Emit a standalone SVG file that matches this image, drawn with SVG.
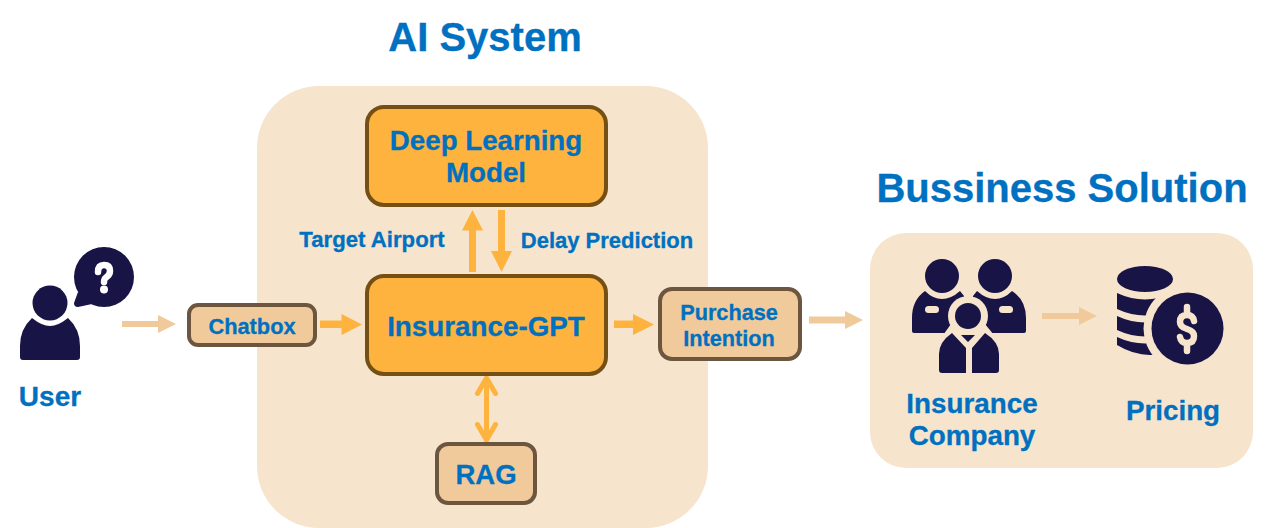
<svg xmlns="http://www.w3.org/2000/svg" width="1272" height="528" viewBox="0 0 1272 528">
<style>
text{font-family:"Liberation Sans",Arial,sans-serif;font-weight:700;fill:#0070c0;stroke:#0070c0;stroke-width:.3;text-anchor:middle}
.panel{fill:#f6e4cd}
.main{fill:#fdb33e;stroke:#745015;stroke-width:4}
.sub{fill:#f1ca9c;stroke:#6d5640;stroke-width:4}
.ico{fill:#181445}
.cut{fill:#f6e4cd}
.a1{fill:#fdb33e}
.a2{fill:#f1ca9c}
.sign{fill:none;stroke-linecap:round;stroke-width:6.500}
.open{fill:none;stroke:#fdb33e;stroke-width:5;stroke-linecap:round;stroke-linejoin:miter}
</style>
<rect width="1272" height="528" fill="#fff"/>
<g id="panel-ai"><rect class="panel" x="257" y="86" width="451" height="442" rx="62"/></g>
<g id="panel-business"><rect class="panel" x="870" y="233" width="383" height="235" rx="36"/></g>
<text x="485" y="51" font-size="40">AI System</text>
<text x="1062" y="202" font-size="40">Bussiness Solution</text>
<g id="connectors">
<polygon class="a2" points="122,321 158,321 158,315 176,324 158,333 158,327 122,327"/>
<polygon class="a1" points="320,320.500 341.500,320.500 341.500,314 362,324.500 341.500,335 341.500,328 320,328"/>
<polygon class="a1" points="614,320.500 633,320.500 633,314 654,324.500 633,335 633,328 614,328"/>
<polygon class="a2" points="809,316.500 845,316.500 845,311 863,320 845,329 845,323.500 809,323.500"/>
<polygon class="a2" points="1042,313 1079,313 1079,307 1097,316 1079,325 1079,319 1042,319"/>
<polygon class="a1" points="469,272 469,230.500 462,230.500 472.500,210 483,230.500 476,230.500 476,272"/>
<polygon class="a1" points="498,210 505,210 505,251 512,251 501.500,272 491,251 498,251"/>
<path class="open" d="M486.500 378V440M477.500 393.500L486.500 378L495.500 393.500M477.500 424.500L486.500 440L495.500 424.500"/>
</g>
<g id="node-deep"><rect class="main" x="367" y="107" width="239" height="98" rx="17"/><text x="486" y="150" font-size="27.700">Deep Learning</text><text x="486" y="182" font-size="27.700">Model</text></g>
<g id="node-gpt"><rect class="main" x="367" y="276" width="239" height="98" rx="17"/><text x="486" y="336" font-size="27.800">Insurance-GPT</text></g>
<g id="node-chatbox"><rect class="sub" x="189" y="305" width="126" height="40" rx="9"/><text x="252" y="333.500" font-size="21.800">Chatbox</text></g>
<g id="node-purchase"><rect class="sub" x="660" y="289" width="140" height="70" rx="12"/><text x="729" y="320" font-size="21.700">Purchase</text><text x="729" y="346" font-size="21.700">Intention</text></g>
<g id="node-rag"><rect class="sub" x="437" y="444" width="98" height="59" rx="11"/><text x="486" y="484" font-size="27.500">RAG</text></g>
<text x="372" y="247" font-size="22.200">Target Airport</text>
<text x="607" y="248" font-size="22">Delay Prediction</text>
<g id="node-user">
<circle class="ico" cx="104" cy="277" r="30"/>
<path class="ico" d="M78 292L74 303Q74 307 78 307L92 304Z"/>
<path class="sign" stroke="#fff" d="M98 272Q98 265 104 265Q110 265 110 271Q110 275 106 277.500Q104 279 104 282"/>
<circle cx="104" cy="289.500" r="4" fill="#fff"/>
<circle class="ico" cx="50" cy="303" r="17.500"/>
<path class="ico" d="M32 318Q42 326 50 326Q58 326 68 318Q80 329 80 346V357Q80 360 77 360H23Q20 360 20 357V346Q20 329 32 318Z"/>
<text x="50" y="406" font-size="28">User</text>
</g>
<g id="node-company">
<circle class="ico" cx="942" cy="276" r="17"/>
<circle class="ico" cx="995" cy="276" r="17"/>
<path class="ico" d="M925 291Q933 299 942 299Q951 299 960 291L964 296L968 333H914Q912 333 912 331V318Q912 300 925 291Z"/>
<path class="ico" d="M1012 291Q1004 299 995 299Q986 299 977 291L973 296L968 333H1024Q1026 333 1026 331V318Q1026 300 1012 291Z"/>
<rect class="cut" x="925" y="306" width="14" height="7" rx="3.500"/>
<rect class="cut" x="999" y="306" width="14" height="7" rx="3.500"/>
<circle class="cut" cx="968" cy="316" r="20"/>
<path class="cut" d="M951 324L936 345V375H1002V345L985 324Z"/>
<circle class="ico" cx="968" cy="316" r="13"/>
<path class="ico" d="M952 333L966 348V373H942Q939 373 939 370V354Q939 342 952 333ZM985 333L972 348V373H996Q999 373 999 370V354Q999 342 985 333ZM961 335H975L968 342Z"/>
<text x="972" y="413" font-size="27.800">Insurance</text><text x="972" y="445" font-size="27.800">Company</text>
</g>
<g id="node-pricing">
<ellipse class="ico" cx="1145" cy="279" rx="28" ry="13"/>
<path class="ico" d="M1117 293Q1145 306 1173 293V309Q1145 322 1117 309ZM1117 316Q1145 329 1173 316V330Q1145 343 1117 330ZM1117 337Q1145 350 1173 337V350Q1145 362 1117 345Z"/>
<circle class="cut" cx="1187.500" cy="328.500" r="44"/>
<circle class="ico" cx="1187.500" cy="328.500" r="36"/>
<path class="sign" stroke="#f6e4cd" d="M1194 321Q1193 315 1187 315Q1180 315 1180 322Q1180 327 1187 329Q1194 331 1194 336Q1194 343 1187 343Q1181 343 1180 337M1187 307V315M1187 343V351"/>
<text x="1173" y="420" font-size="27.800">Pricing</text>
</g>
</svg>
